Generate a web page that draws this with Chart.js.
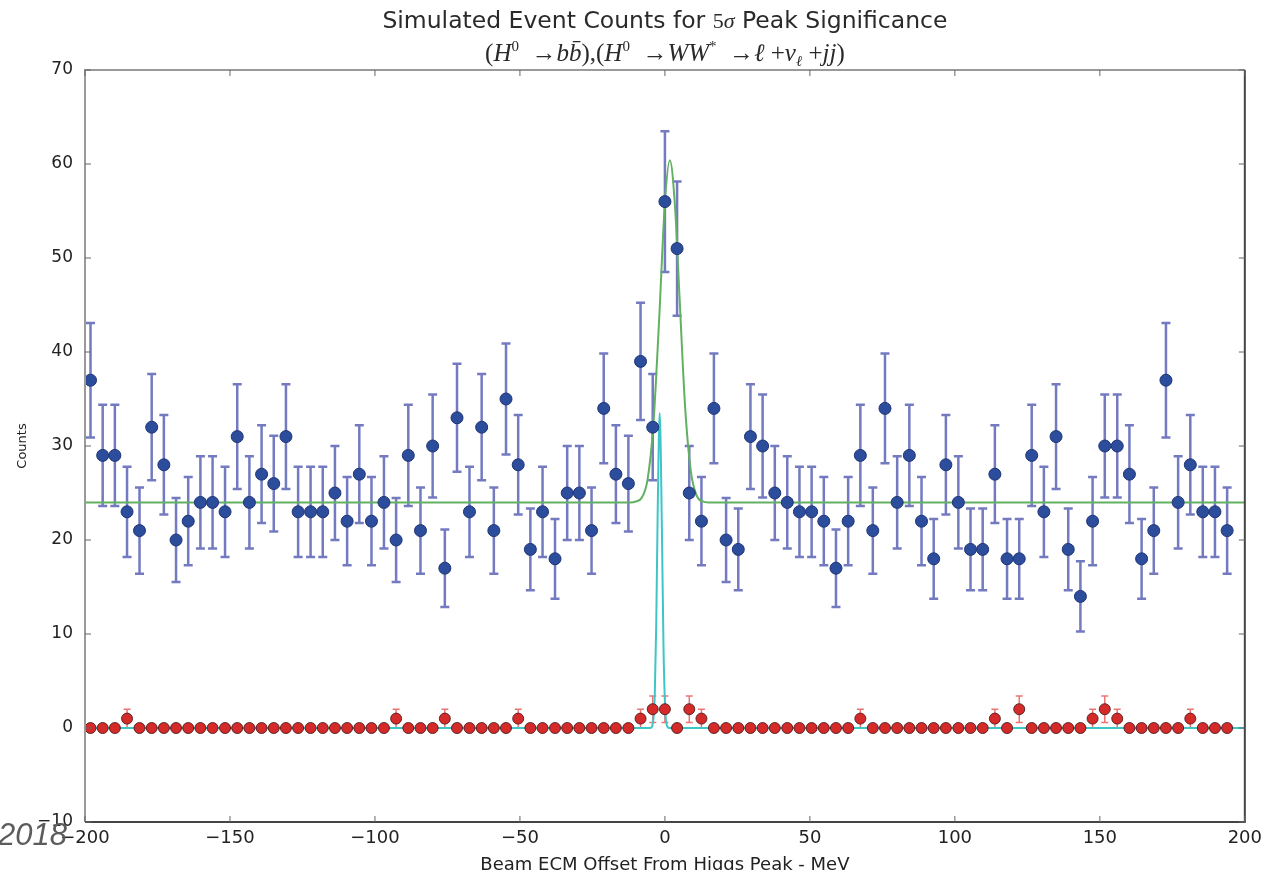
<!DOCTYPE html>
<html>
<head>
<meta charset="utf-8">
<script src="https://cdn.jsdelivr.net/npm/chart.js@4.4.1/dist/chart.umd.min.js"></script>
<style>
  html, body { margin: 0; padding: 0; background: #fff; overflow: hidden; }
  #wrap { width: 1268px; height: 880px; }
</style>
</head>
<body>
<div id="wrap"><canvas id="myChart" width="1268" height="880"></canvas></div>
<script>
// beam offsets of the scan points (MeV)
var offsets = [
  -198.1, -193.9, -189.7, -185.5, -181.2, -177.0, -172.8, -168.6, -164.4, -160.2,
  -156.0, -151.7, -147.5, -143.3, -139.1, -134.9, -130.7, -126.5, -122.2, -118.0,
  -113.8, -109.6, -105.4, -101.2, -96.9, -92.7, -88.5, -84.3, -80.1, -75.9,
  -71.7, -67.4, -63.2, -59.0, -54.8, -50.6, -46.4, -42.2, -37.9, -33.7,
  -29.5, -25.3, -21.1, -16.9, -12.6, -8.4, -4.2, 0.0, 4.2, 8.4,
  12.6, 16.9, 21.1, 25.3, 29.5, 33.7, 37.9, 42.2, 46.4, 50.6,
  54.8, 59.0, 63.2, 67.4, 71.7, 75.9, 80.1, 84.3, 88.5, 92.7,
  96.9, 101.2, 105.4, 109.6, 113.8, 118.0, 122.2, 126.5, 130.7, 134.9,
  139.1, 143.3, 147.5, 151.7, 156.0, 160.2, 164.4, 168.6, 172.8, 177.0,
  181.2, 185.5, 189.7, 193.9
];

// H -> bb counts (blue)
var bbCounts = [
  37, 29, 29, 23, 21, 32, 28, 20, 22, 24,
  24, 23, 31, 24, 27, 26, 31, 23, 23, 23,
  25, 22, 27, 22, 24, 20, 29, 21, 30, 17,
  33, 23, 32, 21, 35, 28, 19, 23, 18, 25,
  25, 21, 34, 27, 26, 39, 32, 56, 51, 25,
  22, 34, 20, 19, 31, 30, 25, 24, 23, 23,
  22, 17, 22, 29, 21, 34, 24, 29, 22, 18,
  28, 24, 19, 19, 27, 18, 18, 29, 23, 31,
  19, 14, 22, 30, 30, 27, 18, 21, 37, 24,
  28, 23, 23, 21
];

// H -> WW -> l nu jj counts (red)
var wwCounts = [
  0, 0, 0, 1, 0, 0, 0, 0, 0, 0,
  0, 0, 0, 0, 0, 0, 0, 0, 0, 0,
  0, 0, 0, 0, 0, 1, 0, 0, 0, 1,
  0, 0, 0, 0, 0, 1, 0, 0, 0, 0,
  0, 0, 0, 0, 0, 1, 2, 2, 0, 2,
  1, 0, 0, 0, 0, 0, 0, 0, 0, 0,
  0, 0, 0, 1, 0, 0, 0, 0, 0, 0,
  0, 0, 0, 0, 1, 0, 2, 0, 0, 0,
  0, 0, 1, 2, 1, 0, 0, 0, 0, 0,
  1, 0, 0, 0
];

// fitted curves
var bbFitX = [-200, -12, -10, -8, -6, -4, -2, 0, 1.7, 3.5, 5, 7, 9, 11, 13, 15, 200];
var bbFitY = [24, 24, 24.1, 24.5, 26.4, 32.2, 43.4, 55.9, 60.4, 55.4, 46.1, 34, 27.2, 24.7, 24.1, 24, 24];
var wwFitX = [-200, -5, -4.5, -3.5, -3, -2.5, -1.8, -1, -0.5, 0, 0.5, 1.5, 200];
var wwFitY = [0, 0, 0.1, 3.5, 10.9, 22.8, 33.5, 20.3, 8.9, 2.7, 0.5, 0, 0];

var xTicks = [-200, -150, -100, -50, 0, 50, 100, 150, 200];
var yTicks = [-10, 0, 10, 20, 30, 40, 50, 60, 70];

var toPoints = function (xs, ys) {
  return xs.map(function (x, i) { return { x: x, y: ys[i] }; });
};
// poisson errors on the counts
var sqrtErr = function (arr) {
  return arr.map(function (n) { return Math.sqrt(n); });
};
var minus = function (v) {
  return v < 0 ? '\u2212' + Math.abs(v) : '' + v;
};

var errorBars = {
  id: 'errorBars',
  beforeDatasetsDraw: function (chart) {
    var ctx = chart.ctx, xs = chart.scales.x, ys = chart.scales.y;
    ctx.save();
    chart.data.datasets.forEach(function (ds) {
      if (!ds.errors) return;
      ctx.strokeStyle = ds.errorColor;
      ctx.lineWidth = ds.errorWidth;
      var cap = ds.errorCap;
      ds.data.forEach(function (p, i) {
        var e = ds.errors[i];
        if (!e) return;
        var px = xs.getPixelForValue(p.x);
        var top = ys.getPixelForValue(p.y + e);
        var bot = ys.getPixelForValue(p.y - e);
        ctx.beginPath();
        ctx.moveTo(px, top); ctx.lineTo(px, bot);
        ctx.moveTo(px - cap, top); ctx.lineTo(px + cap, top);
        ctx.moveTo(px - cap, bot); ctx.lineTo(px + cap, bot);
        ctx.stroke();
      });
    });
    ctx.restore();
  }
};

var drawRuns = function (ctx, runs, cx, baseline) {
  var total = 0;
  runs.forEach(function (r) { ctx.font = r.f; r.w = ctx.measureText(r.t).width; total += r.w; });
  var x = cx - total / 2;
  ctx.textBaseline = 'alphabetic';
  ctx.textAlign = 'left';
  runs.forEach(function (r) {
    ctx.font = r.f;
    ctx.fillText(r.t, x, baseline + (r.dy || 0));
    x += r.w;
  });
};

var frameAndTitles = {
  id: 'frameAndTitles',
  afterDraw: function (chart) {
    var ctx = chart.ctx, a = chart.chartArea;
    var xs = chart.scales.x, ys = chart.scales.y;
    ctx.save();
    // spines
    ctx.lineWidth = 2;
    ctx.strokeStyle = '#9a9a9a';
    ctx.beginPath(); ctx.moveTo(a.left, a.bottom); ctx.lineTo(a.left, a.top); ctx.lineTo(a.right, a.top); ctx.stroke();
    ctx.strokeStyle = '#444';
    ctx.beginPath(); ctx.moveTo(a.right, a.top); ctx.lineTo(a.right, a.bottom); ctx.lineTo(a.left, a.bottom); ctx.stroke();
    // inward ticks
    ctx.lineWidth = 1;
    ctx.strokeStyle = '#666';
    ctx.beginPath();
    xTicks.forEach(function (v) {
      var px = xs.getPixelForValue(v);
      ctx.moveTo(px, a.top); ctx.lineTo(px, a.top + 6);
      ctx.moveTo(px, a.bottom); ctx.lineTo(px, a.bottom - 6);
    });
    yTicks.forEach(function (v) {
      var py = ys.getPixelForValue(v);
      ctx.moveTo(a.left, py); ctx.lineTo(a.left + 6, py);
      ctx.moveTo(a.right, py); ctx.lineTo(a.right - 6, py);
    });
    ctx.stroke();

    // titles
    var cx = (a.left + a.right) / 2;
    ctx.fillStyle = '#2a2a2a';
    drawRuns(ctx, [
      { t: 'Simulated Event Counts for ', f: '23.5px "DejaVu Sans"' },
      { t: '5', f: '22px "Liberation Serif"' },
      { t: '\u03c3', f: 'italic 22px "Liberation Serif"' },
      { t: ' Peak Significance', f: '23.5px "DejaVu Sans"' }
    ], cx, 28);

    var up = '25px "Liberation Serif"', it = 'italic 25px "Liberation Serif"';
    var sup = '15px "Liberation Serif"', sub = 'italic 15px "Liberation Serif"';
    drawRuns(ctx, [
      { t: '(', f: up }, { t: 'H', f: it }, { t: '0', f: sup, dy: -10 },
      { t: '  \u2192', f: up }, { t: 'bb\u0304', f: it }, { t: '),(', f: up },
      { t: 'H', f: it }, { t: '0', f: sup, dy: -10 },
      { t: '  \u2192', f: up }, { t: 'WW', f: it }, { t: '*', f: sup, dy: -10 },
      { t: '  \u2192', f: up }, { t: '\u2113', f: it }, { t: ' +', f: up },
      { t: '\u03bd', f: it }, { t: '\u2113', f: sub, dy: 5 }, { t: ' +', f: up },
      { t: 'jj', f: it }, { t: ')', f: up }
    ], cx, 61);

    // stray year text at bottom left
    ctx.fillStyle = '#5c5c5c';
    ctx.font = 'italic 31px "Liberation Sans"';
    ctx.fillText('2018', -2, 845);
    ctx.restore();
  }
};

var ctx = document.getElementById('myChart');
var myChart = new Chart(ctx, {
  type: 'scatter',
  data: {
    datasets: [
      {
        label: 'WW',
        data: toPoints(offsets, wwCounts),
        errors: sqrtErr(wwCounts),
        errorColor: 'rgba(232, 70, 70, 0.75)',
        errorWidth: 1.5,
        errorCap: 3.5,
        backgroundColor: '#d42a2a',
        borderColor: 'rgba(70, 25, 25, 0.85)',
        borderWidth: 1,
        pointRadius: 5.5,
        order: 0
      },
      {
        label: 'bb',
        data: toPoints(offsets, bbCounts),
        errors: sqrtErr(bbCounts),
        errorColor: 'rgba(55, 65, 165, 0.7)',
        errorWidth: 2.5,
        errorCap: 4.5,
        backgroundColor: '#2c4c9c',
        borderColor: '#1f3475',
        borderWidth: 1,
        pointRadius: 6,
        order: 1
      },
      {
        type: 'line',
        label: 'bb fit',
        data: toPoints(bbFitX, bbFitY),
        borderColor: '#62b062',
        borderWidth: 2,
        pointRadius: 0,
        cubicInterpolationMode: 'monotone',
        fill: false,
        order: 2
      },
      {
        type: 'line',
        label: 'ww fit',
        data: toPoints(wwFitX, wwFitY),
        borderColor: '#3ec6c6',
        borderWidth: 2,
        pointRadius: 0,
        cubicInterpolationMode: 'monotone',
        fill: false,
        order: 3
      }
    ]
  },
  options: {
    responsive: false,
    animation: false,
    events: [],
    layout: { padding: { left: 0, right: 19, top: 70, bottom: 0 } },
    plugins: {
      legend: { display: false },
      title: { display: false },
      tooltip: { enabled: false }
    },
    scales: {
      x: {
        type: 'linear',
        min: -200,
        max: 200,
        afterFit: function (s) { s.height = 58; },
        grid: { display: false, drawTicks: false },
        border: { display: false },
        ticks: {
          stepSize: 50,
          maxRotation: 0,
          autoSkip: false,
          padding: 6,
          color: '#222',
          font: { family: 'DejaVu Sans', size: 18 },
          callback: function (v) { return minus(v); }
        },
        title: {
          display: true,
          text: 'Beam ECM Offset From Higgs Peak - MeV',
          color: '#222',
          font: { family: 'DejaVu Sans', size: 18 },
          padding: { top: 0, bottom: 4 }
        }
      },
      y: {
        type: 'linear',
        min: -10,
        max: 70,
        afterFit: function (s) { s.width = 85; },
        grid: { display: false, drawTicks: false },
        border: { display: false },
        ticks: {
          stepSize: 10,
          padding: 12,
          color: '#222',
          font: { family: 'DejaVu Sans', size: 17 },
          callback: function (v) { return minus(v); }
        },
        title: {
          display: true,
          text: 'Counts',
          color: '#222',
          font: { family: 'DejaVu Sans', size: 13 },
          padding: { top: 15, bottom: 0 }
        }
      }
    }
  },
  plugins: [errorBars, frameAndTitles]
});
</script>
</body>
</html>
